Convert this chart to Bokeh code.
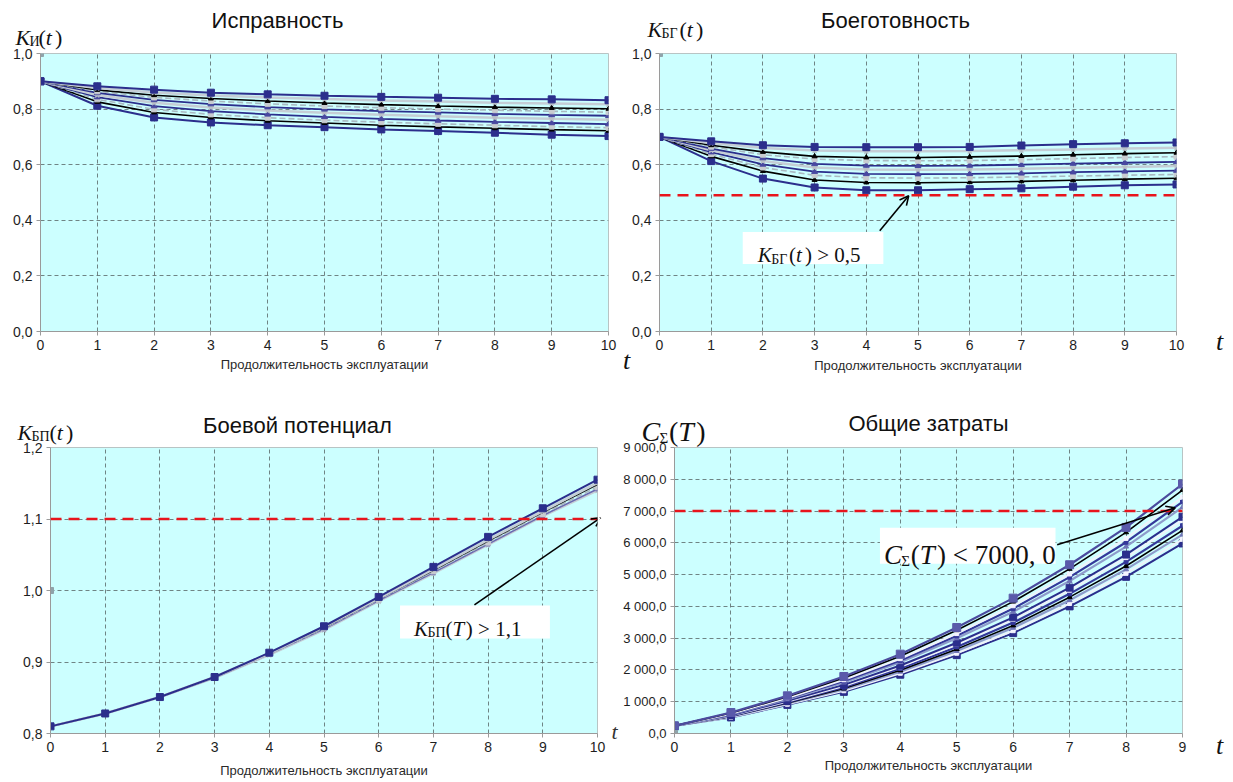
from bokeh.plotting import figure
from bokeh.models import (Range1d, FixedTicker, Label, Span, Arrow, OpenHead,
                          BoxAnnotation, GridBox)
from bokeh.layouts import column, row
from bokeh.embed import file_html
from bokeh.resources import INLINE

# ---------------- data ----------------
years10 = [0, 1, 2, 3, 4, 5, 6, 7, 8, 9, 10]
years9 = [0, 1, 2, 3, 4, 5, 6, 7, 8, 9]

# Исправность  K_И(t)
ki_series = [
    [0.900, 0.882, 0.870, 0.859, 0.853, 0.848, 0.844, 0.841, 0.837, 0.835, 0.832],
    [0.900, 0.876, 0.860, 0.849, 0.842, 0.836, 0.831, 0.827, 0.823, 0.820, 0.817],
    [0.900, 0.869, 0.850, 0.838, 0.829, 0.822, 0.816, 0.811, 0.807, 0.804, 0.801],
    [0.900, 0.864, 0.842, 0.829, 0.819, 0.811, 0.805, 0.800, 0.796, 0.792, 0.789],
    [0.900, 0.858, 0.833, 0.818, 0.807, 0.799, 0.793, 0.788, 0.783, 0.779, 0.776],
    [0.900, 0.851, 0.823, 0.806, 0.795, 0.787, 0.780, 0.774, 0.769, 0.765, 0.762],
    [0.900, 0.843, 0.811, 0.793, 0.781, 0.772, 0.765, 0.759, 0.754, 0.750, 0.746],
    [0.900, 0.835, 0.799, 0.781, 0.769, 0.760, 0.753, 0.747, 0.742, 0.737, 0.733],
    [0.900, 0.826, 0.788, 0.770, 0.758, 0.750, 0.742, 0.736, 0.731, 0.726, 0.722],
    [0.900, 0.812, 0.770, 0.752, 0.742, 0.735, 0.727, 0.721, 0.715, 0.708, 0.703],
]
ki_styles = ["navy_sq", "gray", "black", "gray_dash", "navy_tri",
             "gray", "navy_tri", "gray_dash", "black", "navy_sq"]

# Боеготовность  K_БГ(t)
kbg_series = [
    [0.700, 0.684, 0.670, 0.664, 0.663, 0.663, 0.664, 0.669, 0.674, 0.677, 0.680],
    [0.700, 0.678, 0.660, 0.651, 0.648, 0.648, 0.649, 0.652, 0.655, 0.658, 0.661],
    [0.700, 0.670, 0.646, 0.630, 0.626, 0.626, 0.628, 0.631, 0.636, 0.640, 0.643],
    [0.700, 0.665, 0.636, 0.620, 0.615, 0.614, 0.615, 0.618, 0.622, 0.626, 0.629],
    [0.700, 0.658, 0.624, 0.603, 0.597, 0.596, 0.597, 0.600, 0.604, 0.607, 0.610],
    [0.700, 0.652, 0.613, 0.590, 0.583, 0.582, 0.583, 0.585, 0.589, 0.592, 0.595],
    [0.700, 0.645, 0.601, 0.575, 0.567, 0.566, 0.567, 0.569, 0.573, 0.576, 0.579],
    [0.700, 0.638, 0.590, 0.562, 0.553, 0.552, 0.553, 0.556, 0.559, 0.562, 0.565],
    [0.700, 0.630, 0.577, 0.545, 0.536, 0.535, 0.537, 0.540, 0.544, 0.548, 0.551],
    [0.700, 0.613, 0.550, 0.518, 0.508, 0.508, 0.512, 0.515, 0.521, 0.526, 0.529],
]
kbg_styles = ["navy_sq", "gray", "black", "gray_dash", "navy_tri",
              "gray", "navy_tri", "gray_dash", "black", "navy_sq"]
kbg_limit = 0.49

# Боевой потенциал  K_БП(t)
kbp_series = [
    [0.810, 0.828, 0.851, 0.879, 0.913, 0.950, 0.991, 1.033, 1.075, 1.115, 1.155],
    [0.810, 0.828, 0.851, 0.879, 0.912, 0.949, 0.989, 1.030, 1.071, 1.111, 1.151],
    [0.810, 0.828, 0.851, 0.879, 0.912, 0.948, 0.988, 1.028, 1.069, 1.109, 1.148],
    [0.810, 0.828, 0.851, 0.878, 0.911, 0.947, 0.987, 1.027, 1.067, 1.107, 1.145],
    [0.810, 0.828, 0.851, 0.878, 0.911, 0.946, 0.986, 1.025, 1.065, 1.105, 1.142],
    [0.810, 0.828, 0.851, 0.878, 0.910, 0.945, 0.985, 1.024, 1.064, 1.104, 1.140],
]
kbp_styles = ["navy_sq", "gray", "black_thin", "gray_dash", "lightnavy", "gray"]
kbp_limit = 1.1

# Общие затраты  C_Σ(T)
cost_series = [
    [240, 660, 1185, 1794, 2497, 3336, 4260, 5310, 6485, 7850],
    [240, 645, 1155, 1745, 2430, 3250, 4150, 5180, 6330, 7660],
    [240, 625, 1120, 1690, 2355, 3145, 4020, 5020, 6140, 7440],
    [240, 615, 1100, 1650, 2300, 3075, 3930, 4920, 6020, 7290],
    [240, 600, 1075, 1605, 2245, 2995, 3830, 4800, 5880, 7120],
    [240, 575, 1030, 1530, 2140, 2855, 3655, 4590, 5630, 6820],
    [240, 565, 1010, 1500, 2100, 2805, 3590, 4510, 5535, 6710],
    [240, 550, 985, 1455, 2045, 2725, 3490, 4395, 5400, 6540],
    [240, 540, 960, 1415, 1990, 2655, 3400, 4290, 5270, 6390],
    [240, 530, 945, 1385, 1945, 2595, 3325, 4195, 5165, 6260],
    [240, 515, 920, 1345, 1895, 2525, 3235, 4090, 5040, 6110],
    [240, 505, 900, 1310, 1850, 2466, 3160, 4000, 4930, 5980],
]
cost_styles = ["purple_sq", "black", "white", "navy", "lightblue", "navy_sq",
               "white", "navy", "black", "lightblue", "white", "navy_sq"]
cost_limit = 7000

# stray grey markers of the source chart
stray_1 = (0, 1.0)
stray_2 = (0, 1.0)
stray_3 = (0, 1.0)
stray_4 = (0, 0)

# ticks
x_ticks_10 = years10
x_ticks_9 = years9
y_ticks_k = [0.0, 0.2, 0.4, 0.6, 0.8, 1.0]
y_labels_k = ["0,0", "0,2", "0,4", "0,6", "0,8", "1,0"]
y_ticks_bp = [0.8, 0.9, 1.0, 1.1, 1.2]
y_labels_bp = ["0,8", "0,9", "1,0", "1,1", "1,2"]
y_ticks_c = [0, 1000, 2000, 3000, 4000, 5000, 6000, 7000, 8000, 9000]
y_labels_c = ["0,0", "1 000,0", "2 000,0", "3 000,0", "4 000,0", "5 000,0",
              "6 000,0", "7 000,0", "8 000,0", "9 000,0"]

titles = ["Исправность", "Боеготовность", "Боевой потенциал", "Общие затраты"]
x_title = "Продолжительность эксплуатации"

# ---------------- styling ----------------
SANS = "Liberation Sans"
SERIF = "Liberation Serif"
NAVY = "#2B2E8C"
BG = "#CCFFFF"
RED = "#E8141C"

STYLES = {
    "navy_sq":   dict(lc=NAVY, lw=2.0, m="square", ms=7, mc=NAVY),
    "navy_tri":  dict(lc=NAVY, lw=1.8, m="triangle", ms=6, mc="#4848A0"),
    "navy":      dict(lc="#35389A", lw=2.2, m="square", ms=4, mc="#35389A"),
    "gray":      dict(lc="#C5CED6", lw=2.5, m="star", ms=6, mc="#B8C0C8"),
    "gray_dash": dict(lc="#A9B9C2", lw=1.6, m="square", ms=5, mc="#C8CCD0", dash="6 3"),
    "black":     dict(lc="#000000", lw=1.6, m="triangle", ms=5, mc="#000000"),
    "black_thin": dict(lc="#222222", lw=1.2, m=None),
    "lightnavy": dict(lc="#6A6AB0", lw=1.6, m="square", ms=4, mc="#8080B8"),
    "purple_sq": dict(lc="#4B4B9E", lw=2.2, m="square", ms=8, mc="#5A5AAA"),
    "white":     dict(lc="#EEF3FA", lw=2.2, m="square", ms=4, mc="#F4F4FF"),
    "lightblue": dict(lc="#8E9BCB", lw=2.2, m="triangle", ms=5, mc="#7076B8"),
}


def draw_series(p, xs, ys, style):
    s = STYLES[style]
    p.line(xs, ys, line_color=s["lc"], line_width=s["lw"], line_dash=s.get("dash", "solid"))
    if s.get("m"):
        p.scatter(xs, ys, marker=s["m"], size=s["ms"], fill_color=s["mc"], line_color=s["mc"])


def make_fig(width, height, xr, yr, bl, bt, br, bb):
    p = figure(width=width, height=height, x_range=Range1d(*xr), y_range=Range1d(*yr),
               output_backend="svg", toolbar_location=None,
               min_border_left=bl, min_border_top=bt, min_border_right=br, min_border_bottom=bb)
    p.background_fill_color = BG
    p.border_fill_color = "white"
    p.outline_line_color = "#B8C4C4"
    return p


def style_axes(p, xticks, yticks, ylabels, ysize, label_standoff):
    p.xaxis.ticker = FixedTicker(ticks=xticks)
    p.yaxis.ticker = FixedTicker(ticks=yticks)
    p.yaxis.major_label_overrides = {k: v for k, v in zip(yticks, ylabels)}
    for ax in (p.xaxis[0], p.yaxis[0]):
        ax.axis_line_color = "#9A9A9A"
        ax.major_tick_line_color = "#9A9A9A"
        ax.major_tick_out = 4
        ax.major_tick_in = 0
        ax.minor_tick_line_color = None
        ax.major_label_text_font = SANS
        ax.major_label_text_color = "#1E1E1E"
        ax.major_label_standoff = 4
    p.xaxis.major_label_text_font_size = "14px"
    p.yaxis.major_label_text_font_size = ysize
    p.xaxis.axis_label = x_title
    p.xaxis.axis_label_text_font = SANS
    p.xaxis.axis_label_text_font_size = "13px"
    p.xaxis.axis_label_text_font_style = "normal"
    p.xaxis.axis_label_text_color = "#2A2A2A"
    p.xaxis.axis_label_standoff = label_standoff
    p.grid.grid_line_color = "#5E6E6E"
    p.grid.grid_line_dash = "4 3"
    p.grid.grid_line_width = 1
    p.grid.grid_line_alpha = 0.85


def est_w(s, size):
    w = 0.0
    for ch in s:
        if ch in "()":
            w += 0.333
        elif ch in " ,.":
            w += 0.25
        elif ch.isdigit():
            w += 0.5
        elif ch in "<>":
            w += 0.564
        elif ch.isupper():
            w += 0.64
        else:
            w += 0.42
    return w * size


def rich(p, x, y, pieces, dx=0, dy=0, color="#111111"):
    cur = dx
    for text, size, style, shift in pieces:
        p.add_layout(Label(x=x, y=y, x_offset=cur, y_offset=dy + shift, text=text,
                           text_font=SERIF, text_font_size=f"{size}px", text_font_style=style,
                           text_color=color, text_baseline="alphabetic", text_align="left"))
        cur += est_w(text, size)


def limit_line(p, loc):
    p.add_layout(Span(location=loc, dimension="width", line_color=RED,
                      line_width=2.5, line_dash="11 7"))


def note_box(p, l, r, b, t):
    p.add_layout(BoxAnnotation(left=l, right=r, bottom=b, top=t, fill_color="white",
                               fill_alpha=1.0, line_color=None))


def arrow(p, x0, y0, x1, y1):
    p.add_layout(Arrow(end=OpenHead(size=9, line_width=1.6, line_color="black"),
                       x_start=x0, y_start=y0, x_end=x1, y_end=y1,
                       line_width=1.6, line_color="black"))


W_LEFT, W_RIGHT, H_TOP, H_BOTTOM = 620, 610, 390, 390

# ---------------- panel 1: Исправность ----------------
p1 = make_fig(W_LEFT, H_TOP, (0, 10), (0, 1.0), 40, 53, 12, 59)
style_axes(p1, x_ticks_10, y_ticks_k, y_labels_k, "14px", 4)
for ys, st in reversed(list(zip(ki_series, ki_styles))):
    draw_series(p1, years10, ys, st)
p1.scatter([stray_1[0]], [stray_1[1]], marker="square", size=6, color="#8FA3AA")

# ---------------- panel 2: Боеготовность ----------------
p2 = make_fig(W_RIGHT, H_TOP, (0, 10), (0, 1.0), 39, 53, 54, 57)
style_axes(p2, x_ticks_10, y_ticks_k, y_labels_k, "14px", 5)
for ys, st in reversed(list(zip(kbg_series, kbg_styles))):
    draw_series(p2, years10, ys, st)
p2.scatter([stray_2[0]], [stray_2[1]], marker="square", size=6, color="#8FA3AA")
limit_line(p2, kbg_limit)
note_box(p2, 1.61, 4.33, 0.243, 0.358)
rich(p2, 1.61, 0.30, [("K", 21, "italic", 0), ("БГ", 14, "normal", -4), ("(", 21, "normal", 0),
                      ("t", 21, "italic", 0), (") > 0,5", 21, "normal", 0)], dx=15, dy=-7)
arrow(p2, 4.26, 0.362, 4.82, 0.488)

# ---------------- panel 3: Боевой потенциал ----------------
p3 = make_fig(W_LEFT, H_BOTTOM, (0, 10), (0.8, 1.2), 50, 57, 23, 47)
style_axes(p3, x_ticks_10, y_ticks_bp, y_labels_bp, "14px", 8)
for ys, st in reversed(list(zip(kbp_series, kbp_styles))):
    draw_series(p3, years10, ys, st)
p3.scatter([stray_3[0]], [stray_3[1]], marker="square", size=6, color="#8FA3AA")
limit_line(p3, kbp_limit)
note_box(p3, 6.39, 9.13, 0.933, 0.979)
rich(p3, 6.39, 0.956, [("K", 21, "italic", 0), ("БП", 14, "normal", -4), ("(", 21, "normal", 0),
                       ("T", 21, "italic", 0), (") > 1,1", 21, "normal", 0)], dx=14, dy=-7)
arrow(p3, 7.75, 0.980, 10.06, 1.102)

# ---------------- panel 4: Общие затраты ----------------
p4 = make_fig(W_RIGHT, H_BOTTOM, (0, 9), (0, 9000), 53, 57, 48, 47)
style_axes(p4, x_ticks_9, y_ticks_c, y_labels_c, "13px", 3)
for ys, st in reversed(list(zip(cost_series, cost_styles))):
    draw_series(p4, years9, ys, st)
p4.scatter([stray_4[0]], [stray_4[1]], marker="square", size=6, color="#8FA3AA")
limit_line(p4, cost_limit)
note_box(p4, 3.64, 6.75, 5340, 6473)
rich(p4, 3.64, 5906, [("C", 27, "italic", 0), ("Σ", 15, "normal", -6), ("(", 27, "normal", 0),
                      ("T", 27, "italic", 0), (") < 7000, 0", 27, "normal", 0)], dx=4, dy=-9)
arrow(p4, 6.78, 5937, 8.87, 7102)

# ---------------- transparent overlay for texts outside the plot frames ----------------
TOTAL_W, TOTAL_H = W_LEFT + W_RIGHT, H_TOP + H_BOTTOM
ov = figure(width=TOTAL_W, height=TOTAL_H, x_range=Range1d(0, TOTAL_W), y_range=Range1d(TOTAL_H, 0),
            x_axis_location=None, y_axis_location=None, toolbar_location=None, tools="",
            output_backend="svg", min_border_left=0, min_border_right=0,
            min_border_top=0, min_border_bottom=0)
ov.outline_line_color = None
ov.background_fill_color = None
ov.border_fill_color = None
ov.xgrid.visible = False
ov.ygrid.visible = False


def ov_title(text, cx, cy):
    ov.add_layout(Label(x=cx, y=cy, text=text, text_font=SANS, text_font_size="22px",
                        text_color="#111111", text_align="center", text_baseline="middle"))


def ov_t(cx, cy, size=26, color="#111111"):
    ov.add_layout(Label(x=cx, y=cy, text="t", text_font=SERIF, text_font_size=f"{size}px",
                        text_font_style="italic", text_color=color,
                        text_align="center", text_baseline="middle"))


ov_title(titles[0], 277, 20)
ov_title(titles[1], 895, 20)
ov_title(titles[2], 297, 425)
ov_title(titles[3], 928, 423)

rich(ov, 15, 37, [("K", 22, "italic", 0), ("И", 14, "normal", -4), ("(", 22, "normal", 0),
                  ("t", 22, "italic", 0), (")", 22, "normal", 0)])
rich(ov, 647, 29, [("K", 22, "italic", 0), ("БГ", 14, "normal", -4), ("(", 22, "normal", 0),
                   ("t", 22, "italic", 0), (")", 22, "normal", 0)])
rich(ov, 17, 432, [("K", 22, "italic", 0), ("БП", 14, "normal", -4), ("(", 22, "normal", 0),
                   ("t", 22, "italic", 0), (")", 22, "normal", 0)])
rich(ov, 641, 431, [("C", 28, "italic", 0), ("Σ", 15, "normal", -6), ("(", 28, "normal", 0),
                    ("T", 28, "italic", 0), (")", 28, "normal", 0)])

ov_t(626, 360)
ov_t(1219, 341)
ov_t(614, 731, size=22, color="#333333")
ov_t(1219, 745)

panels = column(row(p1, p2), row(p3, p4))
layout = GridBox(children=[(panels, 0, 0), (ov, 0, 0)])
open("out.html", "w").write(file_html(layout, INLINE))
